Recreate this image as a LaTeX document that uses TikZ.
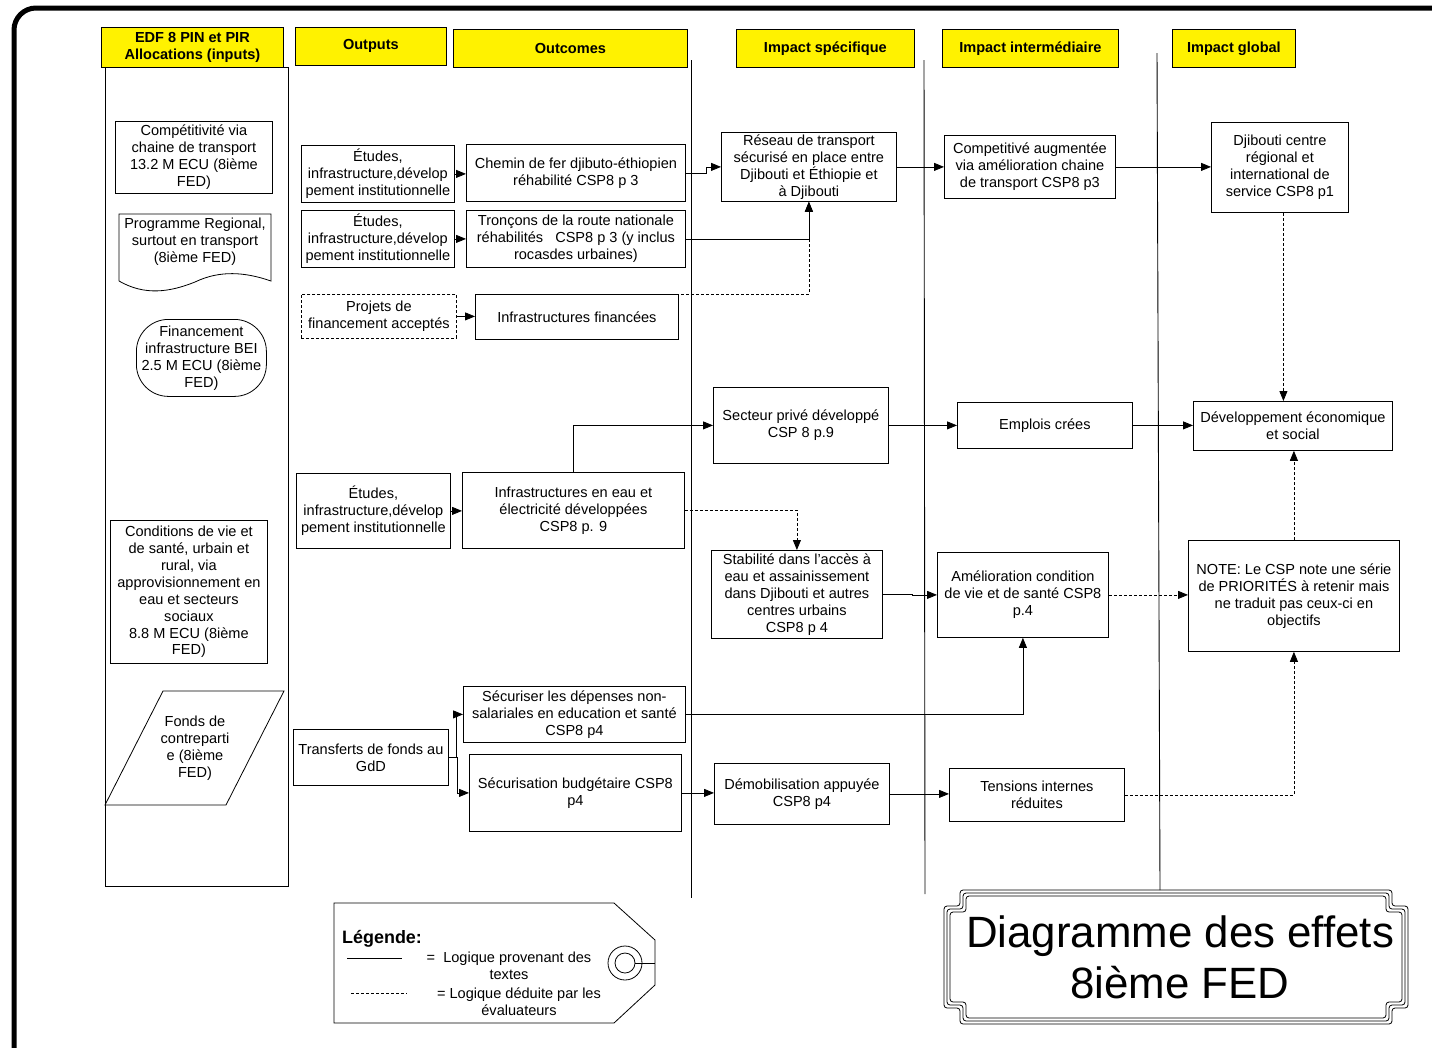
\documentclass[tikz,border=0pt]{standalone}
\usepackage{fontspec}
\setmainfont{Liberation Sans}
\usetikzlibrary{arrows.meta}
\begin{document}
\begin{tikzpicture}[x=1bp,y=-1bp,
  bx/.style={draw, line width=0.8bp, align=center, inner sep=0pt, anchor=north west, font=\fontsize{14.6}{17}\selectfont},
  hdr/.style={draw, fill=yellow, line width=0.8bp, align=center, inner sep=0pt, anchor=north west, font=\bfseries\fontsize{14.6}{17}\selectfont},
  lnk/.style={line width=0.8bp, -{Triangle[length=10bp,width=8bp]}},
  dlnk/.style={lnk, dash pattern=on 3bp off 2bp},
  txt/.style={align=center, inner sep=0pt, font=\fontsize{14.6}{17}\selectfont},
  colline/.style={line width=0.9bp}
]
\useasboundingbox (0,0) rectangle (1432,1047);
\fill[white] (0,0) rectangle (1432,1047);
% outer frame
\draw[line width=5bp, rounded corners=22bp] (14,1070) -- (14,8) -- (1450,8);

% headers
\node[hdr, minimum width=182bp, minimum height=40bp] (h1) at (101,27) {EDF 8 PIN et PIR\\Allocations (inputs)};
\node[hdr, minimum width=151bp, minimum height=38bp] (h2) at (295,27) {Outputs};
\node[hdr, minimum width=234bp, minimum height=38bp] (h3) at (453,29) {Outcomes};
\node[hdr, minimum width=178bp, minimum height=38bp] (h4) at (736,29) {Impact spécifique};
\node[hdr, minimum width=176bp, minimum height=38bp] (h5) at (942,29) {Impact intermédiaire};
\node[hdr, minimum width=123bp, minimum height=38bp] (h6) at (1172,29) {Impact global};

% column lines
\draw[colline] (105,67) rectangle (288,886);
\draw[colline] (691,60) -- (691,898);
\draw[colline] (924,60) -- (925,894);
\draw[colline] (1157,53) -- (1160,890);

% inputs
\node[bx, minimum width=157bp, minimum height=72bp] (in1) at (115,121) {Compétitivité via\\chaine de transport\\13.2 M ECU (8ième\\FED)};
\draw[line width=0.8bp] (119,281) -- (119,214) -- (271,214) -- (271,281)
  .. controls (245,272) and (220,270) .. (195,282)
  .. controls (170,292) and (145,296) .. (119,281);
\node[txt] (in2) at (195,242) {Programme Regional,\\surtout en transport\\(8ième FED)};
\node[bx, minimum width=130bp, minimum height=77bp, rounded corners=32bp] (in3) at (136,319) {Financement\\infrastructure BEI\\2.5 M ECU (8ième\\FED)};
\node[bx, minimum width=157bp, minimum height=143bp] (in4) at (110,520) {Conditions de vie et\\de santé, urbain et\\rural, via\\approvisionnement en\\eau et secteurs\\sociaux\\8.8 M ECU (8ième\\FED)};
\draw[line width=0.8bp] (163,691) -- (284,691) -- (226,805) -- (105,805) -- cycle;
\node[txt] (in5) at (195,748) {Fonds de\\contreparti\\e (8ième\\FED)};

% outputs
\node[bx, minimum width=153bp, minimum height=57bp] (o1) at (301,145) {Études,\\infrastructure,dévelop\\pement institutionnelle};
\node[bx, minimum width=153bp, minimum height=57bp] (o2) at (301,210) {Études,\\infrastructure,dévelop\\pement institutionnelle};
\node[bx, minimum width=155bp, minimum height=44bp, dash pattern=on 3bp off 2bp] (o3) at (301,294) {Projets de\\financement acceptés};
\node[bx, minimum width=154bp, minimum height=75bp] (o4) at (296,473) {Études,\\infrastructure,dévelop\\pement institutionnelle};
\node[bx, minimum width=155bp, minimum height=56bp] (o5) at (293,729) {Transferts de fonds au\\GdD};

% outcomes
\node[bx, minimum width=219bp, minimum height=57bp] (c1) at (466,144) {Chemin de fer djibuto-éthiopien\\réhabilité CSP8 p 3};
\node[bx, minimum width=219bp, minimum height=57bp] (c2) at (466,210) {Tronçons de la route nationale\\réhabilités \ \ CSP8 p 3 (y inclus\\rocasdes urbaines)};
\node[bx, minimum width=203bp, minimum height=45bp] (c3) at (475,294) {Infrastructures financées};
\node[bx, minimum width=222bp, minimum height=76bp] (c4) at (462,472) {Infrastructures en eau et\\électricité développées\\CSP8 p. 9};
\node[bx, minimum width=222bp, minimum height=56bp] (c5) at (463,686) {Sécuriser les dépenses non-\\salariales en education et santé\\CSP8 p4};
\node[bx, minimum width=212bp, minimum height=77bp] (c6) at (469,754) {Sécurisation budgétaire CSP8\\p4};

% impact specifique
\node[bx, minimum width=175bp, minimum height=69bp] (s1) at (721,132) {Réseau de transport\\sécurisé en place entre\\Djibouti et Éthiopie et\\à Djibouti};
\node[bx, minimum width=175bp, minimum height=76bp] (s2) at (713,387) {Secteur privé développé\\CSP 8 p.9};
\node[bx, minimum width=171bp, minimum height=88bp] (s3) at (711,550) {Stabilité dans l’accès à\\eau et assainissement\\dans Djibouti et autres\\centres urbains\\CSP8 p 4};
\node[bx, minimum width=175bp, minimum height=61bp] (s4) at (714,763) {Démobilisation appuyée\\CSP8 p4};

% impact intermediaire
\node[bx, minimum width=171bp, minimum height=63bp] (i1) at (944,135) {Competitivé augmentée\\via amélioration chaine\\de transport CSP8 p3};
\node[bx, minimum width=175bp, minimum height=46bp] (i2) at (957,402) {Emplois crées};
\node[bx, minimum width=171bp, minimum height=85bp] (i3) at (937,552) {Amélioration condition\\de vie et de santé CSP8\\p.4};
\node[bx, minimum width=175bp, minimum height=53bp] (i4) at (949,768) {Tensions internes\\réduites};

% impact global
\node[bx, minimum width=137bp, minimum height=90bp] (g1) at (1211,122) {Djibouti centre\\régional et\\international de\\service CSP8 p1};
\node[bx, minimum width=199bp, minimum height=49bp] (g2) at (1193,401) {Développement économique\\et social};
\node[bx, minimum width=211bp, minimum height=111bp] (g3) at (1188,540) {NOTE: Le CSP note une série\\de PRIORITÉS à retenir mais\\ne traduit pas ceux-ci en\\objectifs};

% connectors
\draw[lnk] (o1.east) -- (o1.east -| c1.west);
\draw[lnk] (o2.east) -- (o2.east -| c2.west);
\draw[lnk] (o3.east) -- (o3.east -| c3.west);
\draw[lnk] (o4.east) -- (o4.east -| c4.west);
\draw[lnk] (o5.east) -- ++(8,0) |- (c5.west);
\draw[lnk] (o5.east) -- ++(9,0) |- (c6.west);

\draw[lnk] (c1.east) -- ++(21,0) |- (s1.west);
\draw[lnk] (c2.east) -| (s1.south);
\draw[dlnk] ([xshift=2bp]c3.north east) -| (s1.south);
\draw[lnk] (s1.east) -- (s1.east -| i1.west);
\draw[lnk] (i1.east) -- (i1.east -| g1.west);
\draw[dlnk] ([xshift=3.5bp]g1.south) -- ([xshift=3.5bp]g1.south |- g2.north);

\draw[lnk] (c4.north) |- (s2.west);
\draw[dlnk] (c4.east) -| (s3.north);
\draw[lnk] (s2.east) -- (s2.east -| i2.west);
\draw[lnk] (i2.east) -- (i2.east -| g2.west);
\draw[lnk] (s3.east) -- ++(30,0) |- (i3.west);
\draw[dlnk] (i3.east) -- (i3.east -| g3.west);
\draw[dlnk] (g3.north) -- (g3.north |- g2.south);

\draw[lnk] (c5.east) -| (i3.south);
\draw[lnk] (c6.east) -- (c6.east -| s4.west);
\draw[lnk] (s4.east) -- (s4.east -| i4.west);
\draw[dlnk] (i4.east) -| (g3.south);

% legend tag
\draw[line width=0.8bp] (334,903) -- (614,903) -- (655,940) -- (655,985) -- (614,1023) -- (334,1023) -- cycle;
\draw[line width=0.8bp] (625,963) circle (17bp);
\draw[line width=0.8bp] (625,963) circle (10bp);
\draw[line width=0.8bp] (635,963) -- (655,963);
\node[anchor=west, inner sep=0pt, font=\bfseries\fontsize{18}{20}\selectfont] (lg) at (342,939) {Légende:};
\draw[line width=0.8bp] (347,958) -- (402,958);
\node[txt] (lg1) at (509,966) {=\ \ Logique provenant des\\textes};
\draw[line width=0.8bp, dash pattern=on 3bp off 2bp] (351,993) -- (407,993);
\node[txt] (lg2) at (519,1001.5) {= Logique déduite par les\\évaluateurs};

% title box
\foreach \o in {0,3,6}{
  \draw[line width=0.8bp, rounded corners=3bp]
    (944+\o,906+\o) -- (960+\o,906+\o) -- (960+\o,890+\o) -- (1392-\o,890+\o) -- (1392-\o,906+\o) -- (1408-\o,906+\o)
    -- (1408-\o,1008-\o) -- (1392-\o,1008-\o) -- (1392-\o,1024-\o) -- (960+\o,1024-\o) -- (960+\o,1008-\o) -- (944+\o,1008-\o) -- cycle;
}
\node[align=center, inner sep=0pt, font=\fontsize{44}{51}\selectfont] (title) at (1180,957) {Diagramme des effets\\8ième FED};
\end{tikzpicture}
\end{document}
